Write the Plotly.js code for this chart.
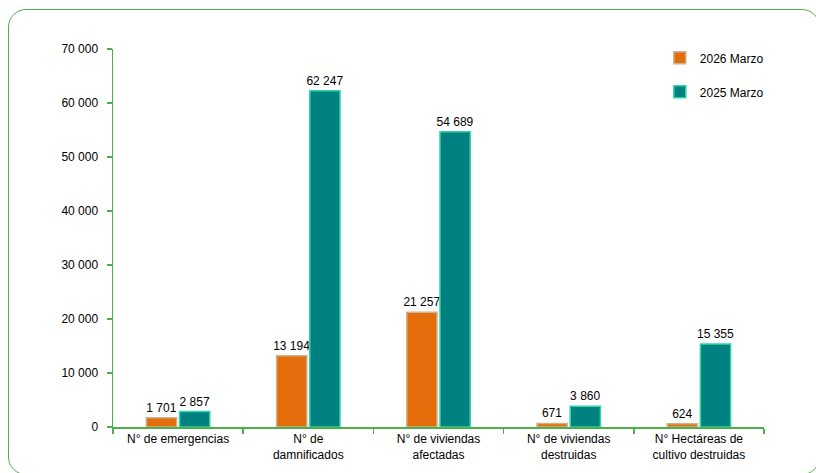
<!DOCTYPE html>
<html>
<head>
<meta charset="utf-8">
<script src="https://cdn.plot.ly/plotly-3.0.1.min.js"></script>
<style>
  html, body { margin: 0; padding: 0; background: #fff; }
  #wrap { position: relative; width: 816px; height: 473px; overflow: hidden; }
  #chart { width: 816px; height: 473px; }
  #frame { position: absolute; left: 8px; top: 9px; width: 812px; height: 466px;
           border: 1.5px solid #4DAF4A; border-radius: 18px; pointer-events: none; box-sizing: border-box; }
</style>
</head>
<body>
<div id="wrap">
  <div id="chart"></div>
  <div id="frame"></div>
</div>
<script>
const categories = [
  "N° de emergencias",
  "N° de<br>damnificados",
  "N° de viviendas<br>afectadas",
  "N° de viviendas<br>destruidas",
  "N° Hectáreas de<br>cultivo destruidas"
];
const series2026Name = "2026 Marzo";
const series2026 = [1701, 13194, 21257, 671, 624];
const series2025Name = "2025 Marzo";
const series2025 = [2857, 62247, 54689, 3860, 15355];
const yTicks = [0, 10000, 20000, 30000, 40000, 50000, 60000, 70000];

const font = "Liberation Sans, Arial, sans-serif";

const traces = [
  {
    type: "bar", name: series2026Name, x: categories, y: series2026,
    marker: { color: "#E46C0A", line: { color: "#C9B48F", width: 1.5 } },
    texttemplate: "%{y:,}", textposition: "outside", cliponaxis: false, constraintext: "none",
    textfont: { family: font, size: 12, color: "#000" },
    legend: "legend", hoverinfo: "skip"
  },
  {
    type: "bar", name: series2025Name, x: categories, y: series2025,
    marker: { color: "#008080", line: { color: "#2FD6A6", width: 1.5 } },
    texttemplate: "%{y:,}", textposition: "outside", cliponaxis: false, constraintext: "none",
    textfont: { family: font, size: 12, color: "#000" },
    legend: "legend2", hoverinfo: "skip"
  }
];

const layout = {
  width: 816, height: 473,
  margin: { l: 113, r: 52, t: 49, b: 46 },
  paper_bgcolor: "rgba(0,0,0,0)", plot_bgcolor: "rgba(0,0,0,0)",
  separators: ", ",
  font: { family: font, size: 12, color: "#000" },
  barmode: "group", bargap: 0.49, bargroupgap: 0.09,
  showlegend: true,
  legend: { x: 0.84, y: 1.015, xanchor: "left", yanchor: "top",
            font: { family: font, size: 12, color: "#000" }, itemwidth: 30,
            bgcolor: "rgba(0,0,0,0)" },
  legend2: { x: 0.84, y: 0.925, xanchor: "left", yanchor: "top",
             font: { family: font, size: 12, color: "#000" }, itemwidth: 30,
             bgcolor: "rgba(0,0,0,0)" },
  xaxis: {
    type: "category", tickson: "boundaries", ticks: "outside", ticklen: 5,
    tickcolor: "#4DAF4A", tickwidth: 1.5,
    showline: true, linecolor: "#4DAF4A", linewidth: 1.5,
    showgrid: false, zeroline: false,
    tickfont: { family: font, size: 12, color: "#000" }
  },
  yaxis: {
    range: [0, 70000], tickvals: yTicks, tickformat: ",",
    ticks: "outside", ticklen: 5, tickcolor: "#4DAF4A", tickwidth: 1.5,
    showline: true, linecolor: "#4DAF4A", linewidth: 1.5,
    showgrid: false, zeroline: false, ticklabelstandoff: 6,
    tickfont: { family: font, size: 12, color: "#000" }
  }
};

Plotly.newPlot("chart", traces, layout, { staticPlot: true, displayModeBar: false });
</script>
</body>
</html>
